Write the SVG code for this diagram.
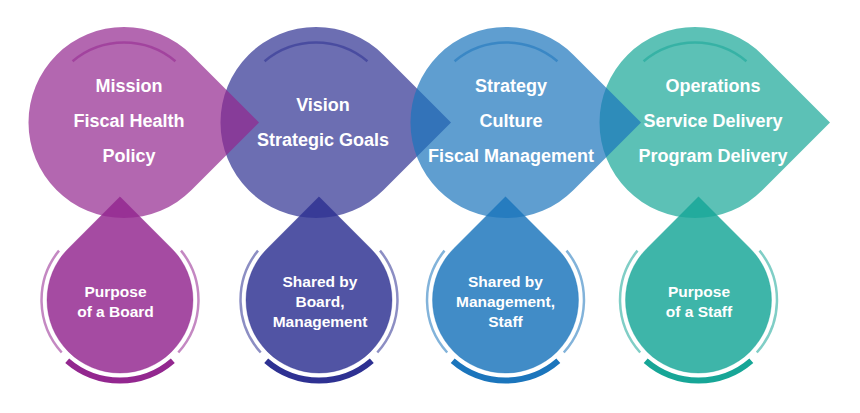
<svg xmlns="http://www.w3.org/2000/svg" width="860" height="413" viewBox="0 0 860 413">
<style>
  .t { font-family: "Liberation Sans", Arial, sans-serif; font-weight: bold; fill: #ffffff; text-anchor: middle; }
  .big { font-size: 18px; }
  .small { font-size: 15.5px; }
  .top { fill-opacity: 0.7; }
  .bot { fill-opacity: 0.83; stroke-width: 1; stroke-opacity: 0.35; }
  .tarc { fill: none; stroke-width: 2.5; stroke-opacity: 0.55; }
  .side { fill: none; stroke-width: 2.5; stroke-opacity: 0.55; }
  .thick { fill: none; stroke-width: 6; }
  .c1 { fill: #93278F; stroke: #93278F; }
  .c2 { fill: #2E3192; stroke: #2E3192; }
  .c3 { fill: #1B75BC; stroke: #1B75BC; }
  .c4 { fill: #17A697; stroke: #17A697; }
  .top.c1, .top.c2, .top.c3, .top.c4 { stroke: none; }
  .tarc.c1, .tarc.c2, .tarc.c3, .tarc.c4, .side.c1, .side.c2, .side.c3, .side.c4, .thick.c1, .thick.c2, .thick.c3, .thick.c4 { fill: none; }
</style>
<defs>
  <path id="topDrop" d="M135,0 L67.53,-67.53 A95.5,95.5 0 1 0 67.53,67.53 Z"/>
  <path id="topArc" d="M-51.4,-61.3 A80,80 0 0 1 51.4,-61.3"/>
  <path id="botDrop" d="M0,-103.2 L51.6,-51.6 A73,73 0 1 1 -51.6,-51.6 Z"/>
  <path id="sideR" d="M61,-49.4 A78.5,78.5 0 0 1 58.3,52.5"/>
  <path id="sideL" d="M-58.3,52.5 A78.5,78.5 0 0 1 -61,-49.4"/>
  <path id="thickArc" d="M52.8,60.8 A80.5,80.5 0 0 1 -52.8,60.8"/>
</defs>

<g id="top2">
  <use href="#topDrop" class="top c2" transform="translate(316,122.5)"/>
  <use href="#topArc" class="tarc c2" transform="translate(316,122.5)"/>
  <text class="t big" x="323" y="110.5">Vision</text>
  <text class="t big" x="323" y="145.5">Strategic Goals</text>
</g>
<g id="top1">
  <use href="#topDrop" class="top c1" transform="translate(124,122.5)"/>
  <use href="#topArc" class="tarc c1" transform="translate(124,122.5)"/>
  <text class="t big" x="129" y="91.5">Mission</text>
  <text class="t big" x="129" y="126.5">Fiscal Health</text>
  <text class="t big" x="129" y="161.5">Policy</text>
</g>
<g id="top4">
  <use href="#topDrop" class="top c4" transform="translate(695,122.5)"/>
  <use href="#topArc" class="tarc c4" transform="translate(695,122.5)"/>
  <text class="t big" x="713" y="91.5">Operations</text>
  <text class="t big" x="713" y="126.5">Service Delivery</text>
  <text class="t big" x="713" y="161.5">Program Delivery</text>
</g>
<g id="top3">
  <use href="#topDrop" class="top c3" transform="translate(506,122.5)"/>
  <use href="#topArc" class="tarc c3" transform="translate(506,122.5)"/>
  <text class="t big" x="511" y="91.5">Strategy</text>
  <text class="t big" x="511" y="126.5">Culture</text>
  <text class="t big" x="511" y="161.5">Fiscal Management</text>
</g>

<g id="bottom1">
  <use href="#botDrop" class="bot c1" transform="translate(120,300)"/>
  <use href="#sideL" class="side c1" transform="translate(120,300)"/>
  <use href="#sideR" class="side c1" transform="translate(120,300)"/>
  <use href="#thickArc" class="thick c1" transform="translate(120,300)"/>
  <text class="t small" x="115.5" y="296.5">Purpose</text>
  <text class="t small" x="115.5" y="316.5">of a Board</text>
</g>
<g id="bottom2">
  <use href="#botDrop" class="bot c2" transform="translate(319,300)"/>
  <use href="#sideL" class="side c2" transform="translate(319,300)"/>
  <use href="#sideR" class="side c2" transform="translate(319,300)"/>
  <use href="#thickArc" class="thick c2" transform="translate(319,300)"/>
  <text class="t small" x="320" y="286.5">Shared by</text>
  <text class="t small" x="320" y="306.5">Board,</text>
  <text class="t small" x="320" y="326.5">Management</text>
</g>
<g id="bottom3">
  <use href="#botDrop" class="bot c3" transform="translate(505.5,300)"/>
  <use href="#sideL" class="side c3" transform="translate(505.5,300)"/>
  <use href="#sideR" class="side c3" transform="translate(505.5,300)"/>
  <use href="#thickArc" class="thick c3" transform="translate(505.5,300)"/>
  <text class="t small" x="505.5" y="286.5">Shared by</text>
  <text class="t small" x="505.5" y="306.5">Management,</text>
  <text class="t small" x="505.5" y="326.5">Staff</text>
</g>
<g id="bottom4">
  <use href="#botDrop" class="bot c4" transform="translate(698.5,300)"/>
  <use href="#sideL" class="side c4" transform="translate(698.5,300)"/>
  <use href="#sideR" class="side c4" transform="translate(698.5,300)"/>
  <use href="#thickArc" class="thick c4" transform="translate(698.5,300)"/>
  <text class="t small" x="699" y="296.5">Purpose</text>
  <text class="t small" x="699" y="316.5">of a Staff</text>
</g>
</svg>
